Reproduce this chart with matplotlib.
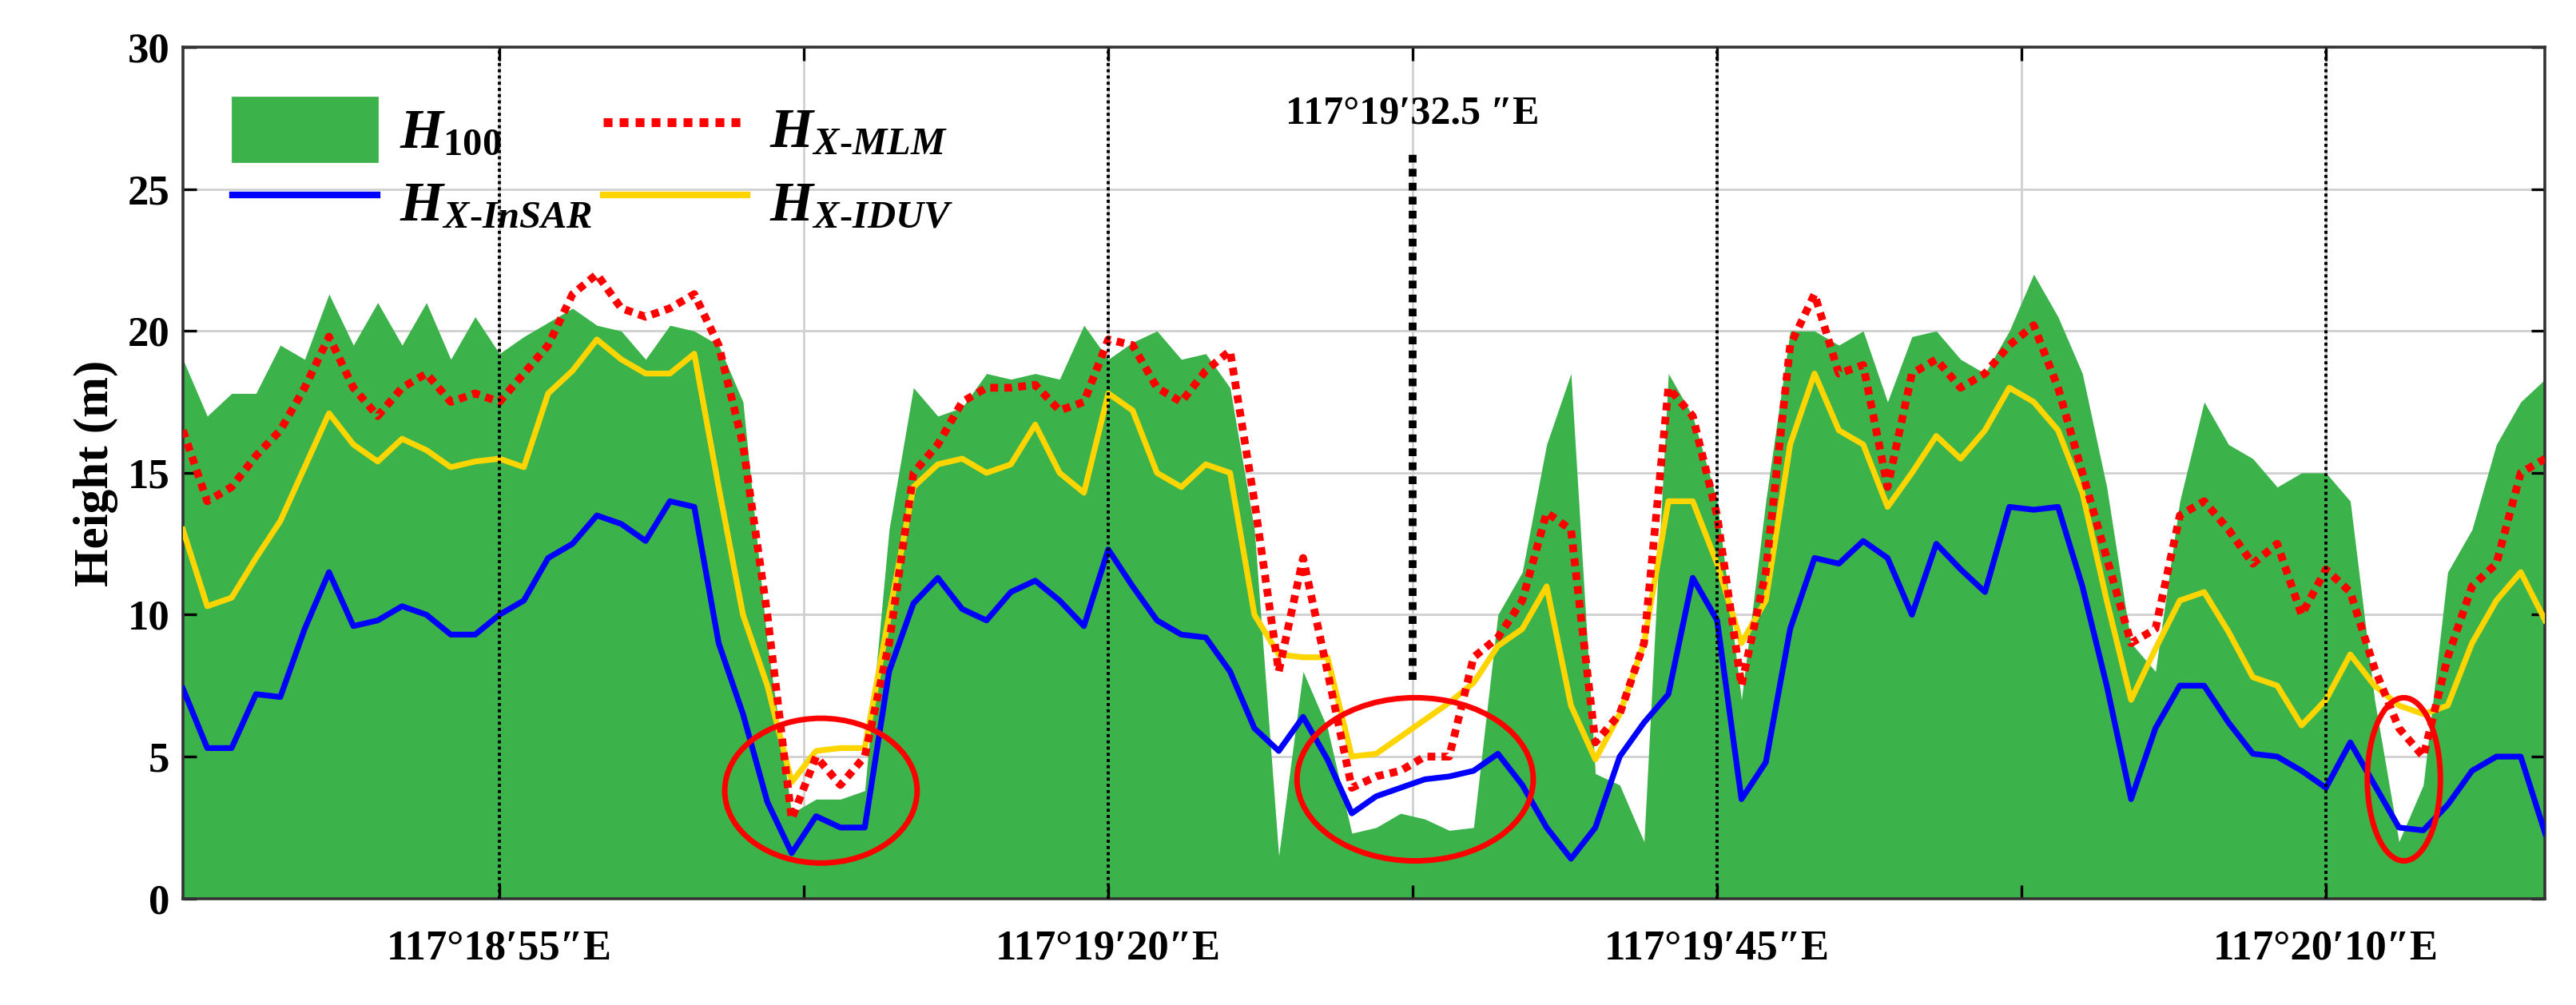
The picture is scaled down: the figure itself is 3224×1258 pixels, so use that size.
import numpy as np
import matplotlib
matplotlib.use("Agg")
import matplotlib.pyplot as plt
from matplotlib.patches import Ellipse, Patch
from matplotlib.lines import Line2D

plt.rcParams["font.family"] = "Liberation Serif"
plt.rcParams["font.weight"] = "bold"
plt.rcParams["mathtext.fontset"] = "custom"
plt.rcParams["mathtext.it"] = "Liberation Serif:italic:bold"
plt.rcParams["mathtext.rm"] = "Liberation Serif:bold"

# longitude in arc-seconds past 117°18'
lon_sec = np.arange(42, 140)

h100 = [19.0, 17.0, 17.8, 17.8, 19.5, 19.0, 21.3, 19.5, 21.0, 19.5,
        21.0, 19.0, 20.5, 19.2, 19.8, 20.3, 20.8, 20.2, 20.0, 19.0,
        20.2, 20.0, 19.5, 17.5, 9.0, 3.0, 3.5, 3.5, 3.8, 13.0,
        18.0, 17.0, 17.3, 18.5, 18.3, 18.5, 18.3, 20.2, 19.0, 19.6,
        20.0, 19.0, 19.2, 18.0, 13.0, 1.5, 8.0, 6.0,
        2.3, 2.5, 3.0, 2.8, 2.4, 2.5, 10.0, 11.5, 16.0, 18.5,
        4.4, 4.0, 2.0, 18.5, 17.0, 14.0, 7.0, 14.0, 20.0, 20.0,
        19.5, 20.0, 17.5, 19.8, 20.0, 19.0, 18.5, 20.0, 22.0, 20.5,
        18.5, 14.5, 9.0, 8.0, 14.0, 17.5, 16.0, 15.5, 14.5, 15.0,
        15.0, 14.0, 7.0, 2.0, 4.0, 11.5, 13.0, 16.0, 17.5, 18.3]

h_mlm = [16.5, 14.0, 14.5, 15.6, 16.5, 18.0, 19.8, 18.0, 17.0, 18.0,
         18.5, 17.5, 17.8, 17.5, 18.5, 19.5, 21.3, 22.0, 20.8, 20.5,
         20.8, 21.3, 19.5, 16.0, 10.0, 2.8, 5.0, 4.0, 5.0, 9.0,
         15.0, 16.0, 17.5, 18.0, 18.0, 18.1, 17.2, 17.5, 19.7, 19.5,
         18.0, 17.5, 18.6, 19.3, 14.0, 8.0, 12.0, 8.0,
         3.9, 4.3, 4.5, 5.0, 5.0, 8.5, 9.2, 10.5, 13.6, 13.0,
         5.5, 6.5, 9.0, 18.0, 17.0, 13.5, 7.5, 11.5, 19.5, 21.3,
         18.5, 18.8, 14.5, 18.5, 19.0, 18.0, 18.5, 19.5, 20.2, 18.0,
         15.0, 12.0, 9.0, 9.5, 13.5, 14.0, 13.0, 11.8, 12.5, 10.0,
         11.6, 10.8, 8.1, 6.0, 5.0, 8.5, 11.0, 11.8, 15.0, 15.5]

h_iduv = [13.0, 10.3, 10.6, 12.0, 13.3, 15.2, 17.1, 16.0, 15.4, 16.2,
          15.8, 15.2, 15.4, 15.5, 15.2, 17.8, 18.6, 19.7, 19.0, 18.5,
          18.5, 19.2, 14.5, 10.0, 7.5, 4.1, 5.2, 5.3, 5.3, 10.0,
          14.5, 15.3, 15.5, 15.0, 15.3, 16.7, 15.0, 14.3, 17.8, 17.2,
          15.0, 14.5, 15.3, 15.0, 10.0, 8.6, 8.5, 8.5,
          5.0, 5.1, 5.7, 6.3, 6.9, 7.6, 8.9, 9.5, 11.0, 6.8,
          4.9, 6.5, 9.0, 14.0, 14.0, 11.8, 9.0, 10.5, 16.0, 18.5,
          16.5, 16.0, 13.8, 15.0, 16.3, 15.5, 16.5, 18.0, 17.5, 16.5,
          14.3, 10.5, 7.0, 8.8, 10.5, 10.8, 9.4, 7.8, 7.5, 6.1,
          7.0, 8.6, 7.5, 6.8, 6.5, 6.8, 9.0, 10.5, 11.5, 9.8]

h_insar = [7.4, 5.3, 5.3, 7.2, 7.1, 9.5, 11.5, 9.6, 9.8, 10.3,
           10.0, 9.3, 9.3, 10.0, 10.5, 12.0, 12.5, 13.5, 13.2, 12.6,
           14.0, 13.8, 9.0, 6.5, 3.4, 1.6, 2.9, 2.5, 2.5, 8.0,
           10.4, 11.3, 10.2, 9.8, 10.8, 11.2, 10.5, 9.6, 12.3, 11.0,
           9.8, 9.3, 9.2, 8.0, 6.0, 5.2, 6.4, 4.9,
           3.0, 3.6, 3.9, 4.2, 4.3, 4.5, 5.1, 4.0, 2.5, 1.4,
           2.5, 5.0, 6.2, 7.2, 11.3, 9.8, 3.5, 4.8, 9.5, 12.0,
           11.8, 12.6, 12.0, 10.0, 12.5, 11.6, 10.8, 13.8, 13.7, 13.8,
           11.0, 7.5, 3.5, 6.0, 7.5, 7.5, 6.2, 5.1, 5.0, 4.5,
           3.9, 5.5, 4.0, 2.5, 2.4, 3.3, 4.5, 5.0, 5.0, 2.3]

tick_pos = [55, 80, 105, 130]
tick_labels = ["117°18′55″E", "117°19′20″E", "117°19′45″E", "117°20′10″E"]
grid_pos = [55, 67.5, 80, 92.5, 105, 117.5, 130]
mark_pos, mark_label = 92.5, "117°19′32.5 ″E"
# circled regions: (centre lon, centre height, width, height)
circles = [(68.2, 3.8, 7.9, 5.1), (92.6, 4.2, 9.7, 5.75), (133.2, 4.2, 3.0, 5.75)]

GREEN, BLUE, RED, YELLOW = "#3bb34a", "#0000ff", "#ff0000", "#ffd500"

fig = plt.figure(figsize=(16.12, 6.29), dpi=200)
ax = fig.add_axes([0.071, 0.106, 0.917, 0.847])

ax.fill_between(lon_sec, 0, h100, color=GREEN, lw=0, zorder=1)
ax.plot(lon_sec, h_insar, color=BLUE, lw=2.6, zorder=4)
ax.plot(lon_sec, h_iduv, color=YELLOW, lw=2.6, zorder=3)
ax.plot(lon_sec, h_mlm, color=RED, lw=3.5, ls=(0, (1, 0.8)), zorder=3)

for g in grid_pos:
    ax.axvline(g, color="#d0d0d0", lw=1, zorder=0)
for y in range(5, 30, 5):
    ax.axhline(y, color="#d0d0d0", lw=1, zorder=0)
for t in tick_pos:
    ax.axvline(t, color="black", lw=1.4, ls=(0, (1, 1)), zorder=5)
ax.plot([mark_pos, mark_pos], [7.7, 26.3], color="black", lw=3.5,
        ls=(0, (1, 0.8)), zorder=5)
ax.text(mark_pos, 27.0, mark_label, ha="center", va="bottom",
        fontsize=18, fontweight="bold")

for cx, cy, w, h in circles:
    ax.add_patch(Ellipse((cx, cy), w, h, fill=False, ec=RED, lw=2.5, zorder=6))

ax.set_xlim(42, 139)
ax.set_ylim(0, 30)
ax.set_xticks(grid_pos)
ax.set_xticklabels(["" if g not in tick_pos else tick_labels[tick_pos.index(g)]
                    for g in grid_pos])
ax.set_yticks(range(0, 31, 5))
ax.tick_params(direction="in", length=6, width=1.2, labelsize=19,
               top=True, right=True, pad=14)
ax.tick_params(axis="y", pad=6)
ax.set_ylabel("Height (m)", fontsize=22, fontweight="bold")
for s in ax.spines.values():
    s.set_linewidth(1.3)
    s.set_color("#333333")

handles = [Patch(color=GREEN),
           Line2D([], [], color=BLUE, lw=3),
           Line2D([], [], color=RED, lw=4, ls=(0, (1, 0.8))),
           Line2D([], [], color=YELLOW, lw=3)]
labels = [r"$H_{\mathit{100}}$", r"$H_{X\text{-}InSAR}$", r"$H_{X\text{-}MLM}$",
          r"$H_{X\text{-}IDUV}$"]
ax.legend(handles, labels, ncol=2, loc="upper left", frameon=False,
          fontsize=25, handlelength=2.6, handleheight=1.4, handletextpad=0.4,
          columnspacing=0.2, labelspacing=0.15, bbox_to_anchor=(0.0, 1.0))

fig.savefig("out.png", dpi=200)
